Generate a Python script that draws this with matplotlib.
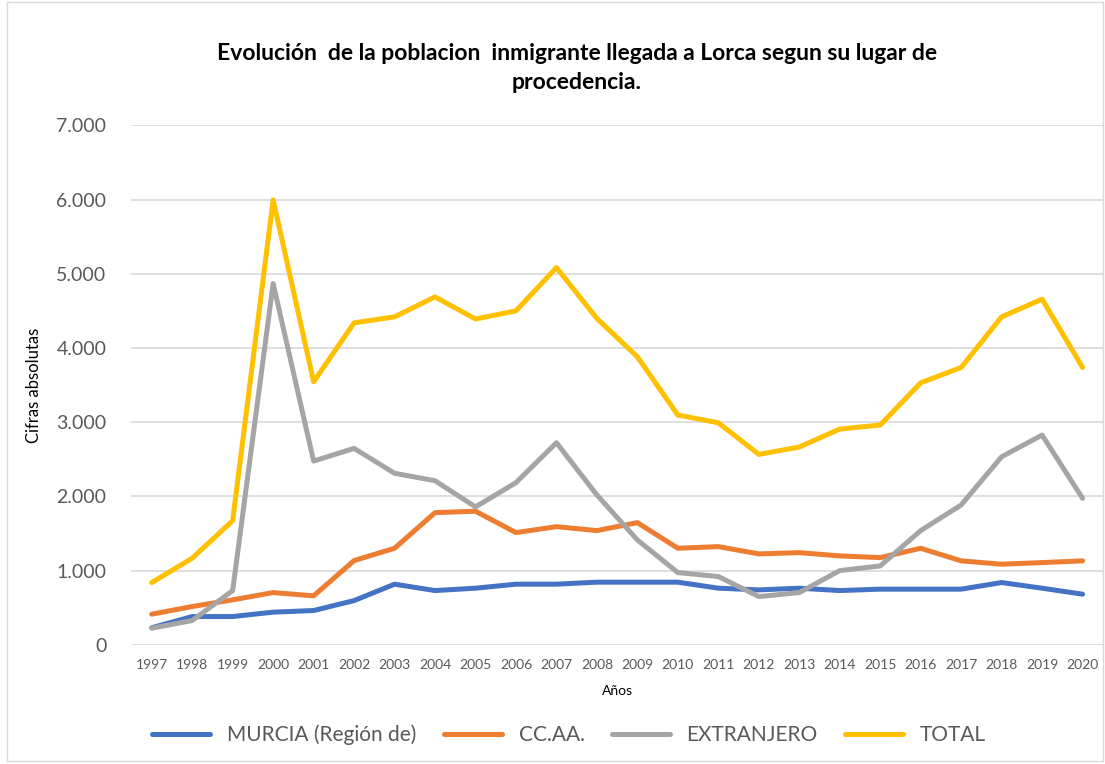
import matplotlib
matplotlib.use("Agg")
import matplotlib.pyplot as plt
from matplotlib.patches import Rectangle
from matplotlib.ticker import FuncFormatter

plt.rcParams["font.family"] = ["Lato", "DejaVu Sans"]

years = [str(y) for y in range(1997, 2021)]

murcia = [230, 381, 381, 440, 462, 596, 817, 731, 763, 817, 817, 844,
          844, 844, 763, 740, 763, 731, 750, 750, 750, 839, 763, 682]
ccaa = [413, 516, 606, 704, 660, 1135, 1301, 1781, 1800, 1512, 1592, 1539,
        1646, 1301, 1323, 1225, 1242, 1198, 1175, 1301, 1131, 1086, 1108, 1131]
extranjero = [224, 327, 731, 4868, 2476, 2647, 2311, 2211, 1858, 2185, 2723, 2019,
              1413, 973, 920, 650, 704, 1000, 1063, 1539, 1884, 2534, 2826, 1974]
total = [839, 1167, 1673, 5995, 3544, 4338, 4419, 4688, 4390, 4500, 5083, 4397,
         3880, 3096, 2992, 2566, 2665, 2907, 2961, 3530, 3737, 4419, 4657, 3737]

series = [
    ("MURCIA (Región de)", murcia, "#4472C4"),
    ("CC.AA.", ccaa, "#ED7D31"),
    ("EXTRANJERO", extranjero, "#A5A5A5"),
    ("TOTAL", total, "#FFC000"),
]

GRAY = "#595959"

fig = plt.figure(figsize=(11.05, 7.64), dpi=100, facecolor="white")
fig.patches.append(Rectangle((0.006, 0.004), 0.992, 0.994, transform=fig.transFigure,
                             fill=False, edgecolor="#D9D9D9", linewidth=1))

ax = fig.add_axes([0.119, 0.156, 0.879, 0.680])
x = list(range(len(years)))
for label, vals, color in series:
    ax.plot(x, vals, color=color, linewidth=3.6, label=label,
            solid_capstyle="round", solid_joinstyle="round")

ax.set_xlim(-0.5, len(years) - 0.5)
ax.set_ylim(0, 7000)
ax.set_yticks(range(0, 7001, 1000))
ax.yaxis.set_major_formatter(FuncFormatter(lambda v, p: f"{int(v):,}".replace(",", ".")))
ax.set_xticks(x)
ax.set_xticklabels(years, fontsize=10, color=GRAY)
ax.tick_params(axis="y", labelsize=14, colors=GRAY, length=0, pad=18)
ax.tick_params(axis="x", length=0, pad=10)
ax.grid(axis="y", color="#D9D9D9", linewidth=1.2)
ax.set_axisbelow(True)
for s in ax.spines.values():
    s.set_visible(False)

ax.set_xlabel("Años", fontsize=10, color="black", labelpad=10)
ax.set_ylabel("Cifras absolutas", fontsize=12, color="black", labelpad=10)

fig.text(0.522, 0.911, "Evolución  de la poblacion  inmigrante llegada a Lorca segun su lugar de\nprocedencia.",
         ha="center", va="center", fontsize=16.5, fontweight="bold", linespacing=1.45)

leg = fig.legend(loc="center", bbox_to_anchor=(0.515, 0.038), ncol=4, frameon=False,
                 fontsize=15, handlelength=2.8, columnspacing=1.3, handletextpad=0.8)
for t in leg.get_texts():
    t.set_color(GRAY)

fig.savefig("out.png", dpi=100, facecolor="white")
